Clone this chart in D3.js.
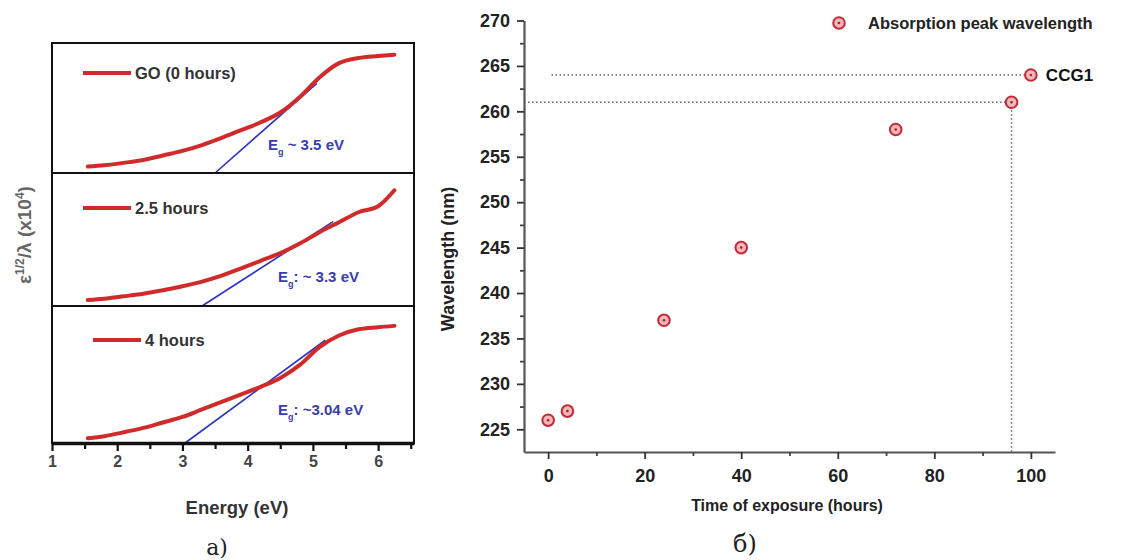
<!DOCTYPE html>
<html>
<head>
<meta charset="utf-8">
<script src="https://cdn.jsdelivr.net/npm/d3@7"></script>
<style>
  body { margin: 0; background: #fff; }
  svg { display: block; }
</style>
</head>
<body>
<script>
// ---- data: panel a) ----
let energy = [1.55, 1.8, 2.1, 2.4, 2.7, 3.0, 3.3, 3.6, 3.9, 4.2, 4.5, 4.8, 5.1, 5.4, 5.7, 6.0, 6.25];
let absGO = [0.05, 0.06, 0.078, 0.10, 0.135, 0.17, 0.215, 0.27, 0.33, 0.39, 0.465, 0.585, 0.735, 0.845, 0.885, 0.90, 0.91];
let abs25 = [0.045, 0.055, 0.073, 0.092, 0.118, 0.148, 0.183, 0.228, 0.283, 0.34, 0.398, 0.47, 0.555, 0.63, 0.705, 0.75, 0.87];
let abs4 = [0.035, 0.05, 0.078, 0.11, 0.15, 0.19, 0.245, 0.30, 0.355, 0.41, 0.475, 0.57, 0.70, 0.785, 0.83, 0.845, 0.855];
let seriesNames = ["GO (0 hours)", "2.5 hours", "4 hours"];
let fitStart = [3.5, 3.3, 3.04];   // band gap intercept (eV)
let fitEnd = [5.06, 5.31, 5.19];
let fitTop = [0.69, 0.634, 0.75];
let gapText = [" ~ 3.5 eV", ": ~ 3.3 eV", ": ~3.04 eV"];
let energyTicks = [1, 2, 3, 4, 5, 6];

// ---- data: panel б) ----
let hours = [0, 4, 24, 40, 72, 96, 100];
let wavelength = [226, 227, 237, 245, 258, 261, 264];
let wlTicks = [225, 230, 235, 240, 245, 250, 255, 260, 265, 270];
let hourTicks = [0, 20, 40, 60, 80, 100];

let svg = d3.select("body").append("svg")
  .attr("width", 1133)
  .attr("height", 560)
  .style("font-family", "'Liberation Sans', Arial, sans-serif");

//******************** a) ********************
let panelTop = [43, 173, 306],
  panelBottom = [173, 306, 443];
let xE = d3.scaleLinear().domain([1, 6.55]).range([52, 414]);
let absData = [absGO, abs25, abs4];
let legendX = [83, 83, 93],
  legendDy = [30, 35, 34],
  gapX = [268, 278, 278],
  gapV = [0.215, 0.22, 0.24];

let left = svg.append("g");

absData.forEach((vals, i) => {
  let yP = d3.scaleLinear().domain([0, 1]).range([panelBottom[i], panelTop[i]]);
  let line = d3.line()
    .x(d => xE(d[0]))
    .y(d => yP(d[1]))
    .curve(d3.curveMonotoneX);

  left.append("path")
    .datum([[fitStart[i], 0], [fitEnd[i], fitTop[i]]])
    .attr("d", line)
    .attr("fill", "none")
    .attr("stroke", "#2a33c4")
    .attr("stroke-width", 1.6);

  left.append("path")
    .datum(energy.map((e, j) => [e, vals[j]]))
    .attr("d", line)
    .attr("fill", "none")
    .attr("stroke", "#d12a2a")
    .attr("stroke-width", 4)
    .attr("stroke-linejoin", "round")
    .attr("stroke-linecap", "round");

  // legend
  let ly = panelTop[i] + legendDy[i];
  left.append("line")
    .attr("x1", legendX[i]).attr("x2", legendX[i] + 48)
    .attr("y1", ly).attr("y2", ly)
    .attr("stroke", "#d12a2a")
    .attr("stroke-width", 4);
  left.append("text")
    .attr("x", legendX[i] + 52)
    .attr("y", ly + 6)
    .style("font-size", "16.5px")
    .style("font-weight", "bold")
    .attr("fill", "#333")
    .text(seriesNames[i]);

  // band gap label
  let g = left.append("text")
    .attr("x", gapX[i])
    .attr("y", yP(gapV[i]) + 5)
    .style("font-size", "15px")
    .style("font-weight", "bold")
    .attr("fill", "#3a3cb0");
  g.append("tspan").text("E");
  g.append("tspan").attr("dy", 5).style("font-size", "9px").text("g");
  g.append("tspan").attr("dy", -5).text(gapText[i]);
});

// frame + dividers
left.append("rect")
  .attr("x", xE(1)).attr("y", panelTop[0])
  .attr("width", xE(6.55) - xE(1))
  .attr("height", panelBottom[2] - panelTop[0])
  .attr("fill", "none")
  .attr("stroke", "#111")
  .attr("stroke-width", 2);
left.selectAll(".divider")
  .data([panelBottom[0], panelBottom[1]])
  .enter()
  .append("line")
  .attr("x1", xE(1)).attr("x2", xE(6.55))
  .attr("y1", d => d).attr("y2", d => d)
  .attr("stroke", "#111")
  .attr("stroke-width", 2.2);

let axE = left.append("g")
  .attr("transform", "translate(0," + panelBottom[2] + ")")
  .call(d3.axisBottom(xE).tickValues(energyTicks).tickSize(8).tickSizeOuter(0).tickPadding(5).tickFormat(d3.format("d")));
axE.select(".domain").attr("stroke", "#111").attr("stroke-width", 3.5);
axE.selectAll(".tick line").attr("stroke", "#111").attr("stroke-width", 2.2);
axE.selectAll("text")
  .style("font-size", "16px")
  .style("font-weight", "bold")
  .attr("fill", "#444")
  .style("font-family", "'Liberation Sans', Arial, sans-serif");
left.append("g")
  .attr("transform", "translate(0," + panelBottom[2] + ")")
  .call(d3.axisBottom(xE).tickValues([1.5, 2.5, 3.5, 4.5, 5.5, 6.5]).tickSize(6).tickFormat(""))
  .call(g => g.select(".domain").remove())
  .selectAll(".tick line").attr("stroke", "#111").attr("stroke-width", 2.2);

left.append("text")
  .attr("x", 237).attr("y", 514)
  .attr("text-anchor", "middle")
  .style("font-size", "18.5px")
  .style("font-weight", "bold")
  .attr("fill", "#333")
  .text("Energy (eV)");

let yl = left.append("text")
  .attr("transform", "translate(31,235) rotate(-90)")
  .attr("text-anchor", "middle")
  .style("font-size", "19px")
  .style("font-weight", "bold")
  .attr("fill", "#666");
yl.append("tspan").text("ε");
yl.append("tspan").attr("dy", -7).style("font-size", "12px").text("1/2");
yl.append("tspan").attr("dy", 7).text("/λ (x10");
yl.append("tspan").attr("dy", -7).style("font-size", "12px").text("4");
yl.append("tspan").attr("dy", 7).text(")");

svg.append("text")
  .attr("x", 217).attr("y", 555)
  .attr("text-anchor", "middle")
  .style("font-family", "'DejaVu Serif', serif")
  .style("font-size", "22px")
  .attr("fill", "#222")
  .text("a)");

//******************** б) ********************
let x = d3.scaleLinear().domain([-5, 105]).range([524, 1055]);
let y = d3.scaleLinear().domain([222.5, 270]).range([452, 20.5]);
let right = svg.append("g");

// dotted guides
let guides = [
  [[-5, 261], [96, 261]],
  [[96, 261], [96, 222.5]],
  [[0.7, 264], [100, 264]]
];
right.selectAll(".guide")
  .data(guides)
  .enter()
  .append("line")
  .attr("x1", d => x(d[0][0])).attr("y1", d => y(d[0][1]))
  .attr("x2", d => x(d[1][0])).attr("y2", d => y(d[1][1]))
  .attr("stroke", "#666")
  .attr("stroke-width", 1.5)
  .attr("stroke-dasharray", "1.5,2.5");

let axY = right.append("g")
  .attr("transform", "translate(524,0)")
  .call(d3.axisLeft(y).tickValues(wlTicks).tickSize(7).tickSizeOuter(0).tickPadding(7));
right.append("g")
  .attr("transform", "translate(524,0)")
  .call(d3.axisLeft(y).tickValues(wlTicks.map(d => d + 2.5).filter(d => d < 270)).tickSize(4).tickFormat(""))
  .call(g => g.select(".domain").remove())
  .selectAll(".tick line").attr("stroke", "#444").attr("stroke-width", 1.8);

let axX = right.append("g")
  .attr("transform", "translate(0,452)")
  .call(d3.axisBottom(x).tickValues(hourTicks).tickSize(7).tickSizeOuter(0).tickPadding(10));
right.append("g")
  .attr("transform", "translate(0,452)")
  .call(d3.axisBottom(x).tickValues([10, 30, 50, 70, 90]).tickSize(4).tickFormat(""))
  .call(g => g.select(".domain").remove())
  .selectAll(".tick line").attr("stroke", "#444").attr("stroke-width", 1.8);

[axY, axX].forEach(ax => {
  ax.select(".domain").attr("stroke", "#555").attr("stroke-width", 2.2);
  ax.selectAll(".tick line").attr("stroke", "#333").attr("stroke-width", 1.8);
  ax.selectAll("text")
    .style("font-family", "'Liberation Sans', Arial, sans-serif")
    .style("font-size", "18px")
    .style("font-weight", "bold")
    .attr("fill", "#222");
});

function marker(sel) {
  sel.append("circle").attr("r", 5.8)
    .attr("fill", "#f2b6b8").attr("stroke", "#c02a36").attr("stroke-width", 2);
  sel.append("circle").attr("r", 1.3).attr("fill", "#a8202c");
}

right.selectAll(".pt")
  .data(hours.map((h, i) => [h, wavelength[i]]))
  .enter()
  .append("g")
  .attr("transform", d => "translate(" + x(d[0]) + "," + y(d[1]) + ")")
  .call(marker);

right.append("text")
  .attr("x", x(100) + 15).attr("y", y(264) + 6)
  .style("font-size", "17px").style("font-weight", "bold").attr("fill", "#111")
  .text("CCG1");

// legend
right.append("g").attr("transform", "translate(839,23)").call(marker);
right.append("text")
  .attr("x", 868).attr("y", 29)
  .style("font-size", "16.5px").style("font-weight", "bold").attr("fill", "#222")
  .text("Absorption peak wavelength");

right.append("text")
  .attr("transform", "translate(454,259) rotate(-90)")
  .attr("text-anchor", "middle")
  .style("font-size", "18px").style("font-weight", "bold").attr("fill", "#222")
  .text("Wavelength (nm)");
right.append("text")
  .attr("x", 787).attr("y", 511)
  .attr("text-anchor", "middle")
  .style("font-size", "16px").style("font-weight", "bold").attr("fill", "#222")
  .text("Time of exposure (hours)");

svg.append("text")
  .attr("x", 745).attr("y", 552)
  .attr("text-anchor", "middle")
  .style("font-family", "'DejaVu Serif', serif")
  .style("font-size", "24px")
  .attr("fill", "#222")
  .text("б)");
</script>
</body>
</html>
